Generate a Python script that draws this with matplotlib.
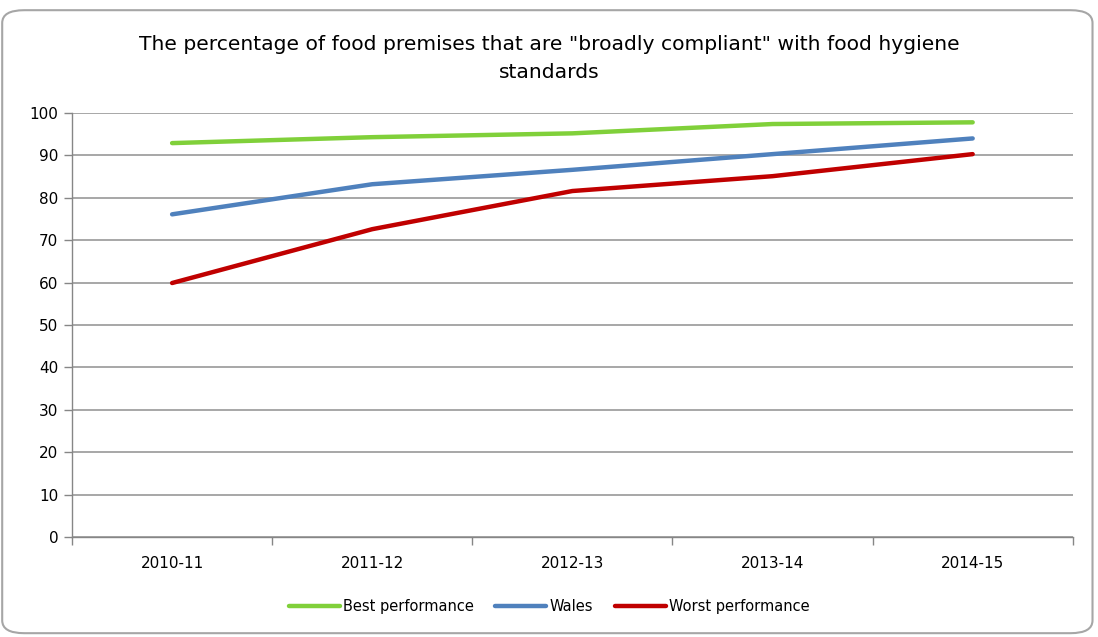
import matplotlib
import matplotlib.pyplot as plt
from matplotlib.patches import FancyBboxPatch

matplotlib.use("Agg")

years = ["2010-11", "2011-12", "2012-13", "2013-14", "2014-15"]
best = [92.9, 94.3, 95.2, 97.4, 97.8]
wales = [76.1, 83.2, 86.6, 90.3, 94.0]
worst = [59.9, 72.6, 81.6, 85.1, 90.3]

plt.rcParams["font.family"] = ["DejaVu Sans"]

fig = plt.figure(figsize=(10.98, 6.37), dpi=100)
ax = fig.add_axes([0.0656, 0.157, 0.9114, 0.6656])

# rounded chart border
border = FancyBboxPatch((0.002, 0.006), 0.993, 0.978,
                        boxstyle="round,pad=0,rounding_size=0.02",
                        transform=fig.transFigure, facecolor="white",
                        edgecolor="#a6a6a6", linewidth=1.5, zorder=-10)
fig.patches.append(border)

x = list(range(len(years)))
ax.plot(x, best, color="#80d03a", lw=3.2, label="Best performance", solid_capstyle="round")
ax.plot(x, wales, color="#4f81bd", lw=3.2, label="Wales", solid_capstyle="round")
ax.plot(x, worst, color="#c00000", lw=3.2, label="Worst performance", solid_capstyle="round")

ax.set_xlim(-0.5, len(years) - 0.5)
ax.set_ylim(0, 100)
ax.set_yticks(range(0, 101, 10))
ax.set_xticks(x)
ax.set_xticklabels(years)
ax.set_xticks([i - 0.5 for i in range(len(years) + 1)], minor=True)
ax.tick_params(axis="x", which="major", length=0, pad=14, labelsize=11)
ax.tick_params(axis="x", which="minor", length=6, color="#868686", width=1)
ax.tick_params(axis="y", length=6, color="#868686", width=1, labelsize=11, pad=4)

ax.grid(axis="y", color="#a0a0a0", lw=1.3)
ax.set_axisbelow(True)
for side in ["top", "right"]:
    ax.spines[side].set_visible(False)
for side in ["left", "bottom"]:
    ax.spines[side].set_color("#868686")
    ax.spines[side].set_linewidth(1)

fig.text(0.5, 0.908, 'The percentage of food premises that are "broadly compliant" with food hygiene\nstandards',
         ha="center", va="center", fontsize=14.6, linespacing=1.65)

fig.legend(loc="center", bbox_to_anchor=(0.5, 0.048), ncol=3, frameon=False,
           fontsize=10.5, handlelength=3.5, handletextpad=0.2, columnspacing=1.5)

fig.savefig("out.png", dpi=100)
